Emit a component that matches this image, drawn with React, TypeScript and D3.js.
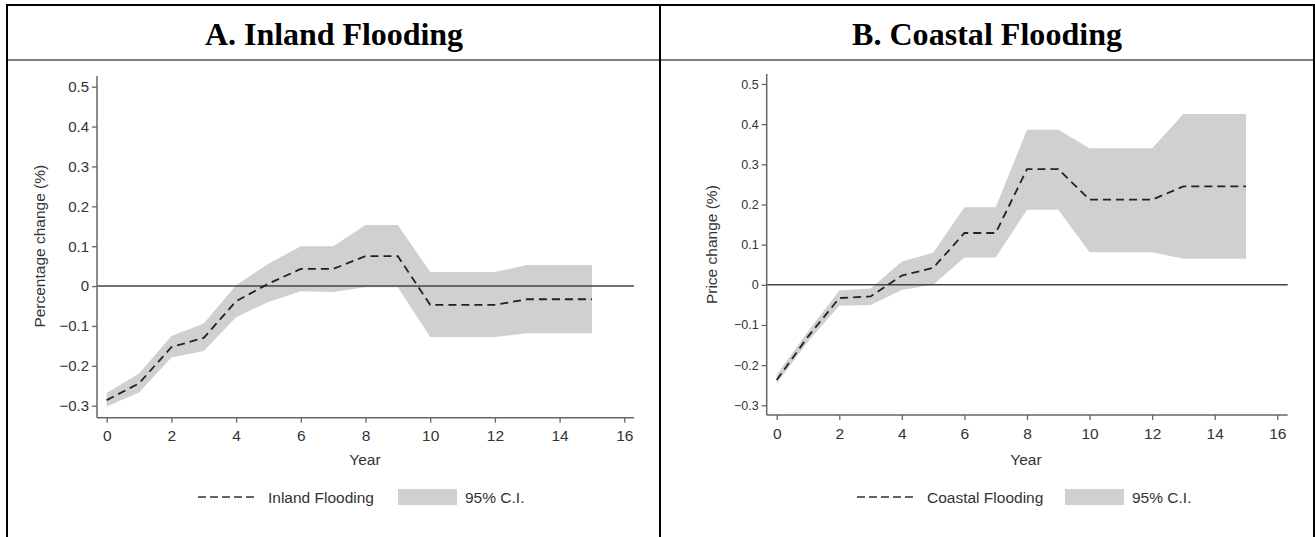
import React, { useRef, useEffect } from "react";
import * as d3 from "d3";

// years after the flood
const years = [0, 1, 2, 3, 4, 5, 6, 7, 8, 9, 10, 11, 12, 13, 14, 15];

// A. inland flooding, percentage change
const inlandEst = [-0.286, -0.244, -0.153, -0.13, -0.038, 0.006, 0.043, 0.043, 0.075, 0.075, -0.047, -0.047, -0.047, -0.033, -0.033, -0.033];
const inlandLo = [-0.302, -0.267, -0.179, -0.163, -0.078, -0.04, -0.013, -0.015, -0.003, -0.003, -0.128, -0.128, -0.128, -0.118, -0.118, -0.118];
const inlandHi = [-0.268, -0.219, -0.125, -0.094, 0.002, 0.056, 0.1, 0.1, 0.153, 0.153, 0.035, 0.035, 0.035, 0.053, 0.053, 0.053];

// B. coastal flooding, price change
const coastalEst = [-0.237, -0.129, -0.033, -0.029, 0.023, 0.042, 0.129, 0.129, 0.288, 0.288, 0.212, 0.212, 0.212, 0.245, 0.245, 0.245];
const coastalLo = [-0.246, -0.141, -0.052, -0.05, -0.013, 0.0, 0.068, 0.068, 0.187, 0.187, 0.081, 0.081, 0.081, 0.065, 0.065, 0.065];
const coastalHi = [-0.224, -0.116, -0.014, -0.009, 0.058, 0.08, 0.193, 0.193, 0.386, 0.386, 0.34, 0.34, 0.34, 0.425, 0.425, 0.425];

const xTicks = [0, 2, 4, 6, 8, 10, 12, 14, 16];
const yTicks = [-0.3, -0.2, -0.1, 0, 0.1, 0.2, 0.3, 0.4, 0.5];

const panels = [
	{
		title: "A. Inland Flooding", titleX: 334,
		yLabel: "Percentage change (%)", legend: "Inland Flooding",
		est: inlandEst, lo: inlandLo, hi: inlandHi,
		x0: 106.7, x16: 624.3, yBot: 405.7, yTop: 86.7,
		axisX: 97, axisY: 417.7, axisTop: 76, axisRight: 634,
		yFont: 15, xFont: 15.5, labelX: 40, yearX: 365,
		legX: 198, legBox: 398,
	},
	{
		title: "B. Coastal Flooding", titleX: 987,
		yLabel: "Price change (%)", legend: "Coastal Flooding",
		est: coastalEst, lo: coastalLo, hi: coastalHi,
		x0: 776.7, x16: 1277.3, yBot: 405.3, yTop: 84,
		axisX: 766.7, axisY: 415, axisTop: 74, axisRight: 1287.7,
		yFont: 12.5, xFont: 15.5, labelX: 712, yearX: 1026,
		legX: 857, legBox: 1065,
	},
];

const App = () => {
	const svgRef = useRef(null);

	useEffect(() => {
		const svg = d3.select(svgRef.current);
		svg.selectAll("*").remove();

		// table frame
		const frame = svg.append("g").attr("stroke", "#000").attr("fill", "none");
		frame.append("line").attr("x1", 6).attr("x2", 1315).attr("y1", 5).attr("y2", 5).attr("stroke-width", 2);
		frame.append("line").attr("x1", 6).attr("x2", 1315).attr("y1", 60).attr("y2", 60).attr("stroke-width", 1.2);
		[7, 660, 1314].forEach(x => {
			frame.append("line").attr("x1", x).attr("x2", x).attr("y1", 4).attr("y2", 537).attr("stroke-width", 2);
		});

		panels.forEach(p => {
			const g = svg.append("g");
			const x = d3.scaleLinear().domain([0, 16]).range([p.x0, p.x16]);
			const y = d3.scaleLinear().domain([-0.3, 0.5]).range([p.yBot, p.yTop]);

			g.append("text")
				.attr("x", p.titleX).attr("y", 45)
				.attr("text-anchor", "middle")
				.attr("font-family", "Liberation Serif, Times New Roman, serif")
				.attr("font-weight", "bold").attr("font-size", 32)
				.attr("textLength", p.title.length > 18 ? 270 : 258)
				.text(p.title);

			// confidence band
			const area = d3.area<number>()
				.x((_, i) => x(years[i]))
				.y0((_, i) => y(p.lo[i]))
				.y1(d => y(d));
			g.append("path").datum(p.hi).attr("d", area).attr("fill", "#d0d0d0");

			// zero line
			g.append("line")
				.attr("x1", p.axisX).attr("x2", p.axisRight)
				.attr("y1", y(0)).attr("y2", y(0))
				.attr("stroke", "#444").attr("stroke-width", 1.5);

			// estimate
			const line = d3.line<number>().x((_, i) => x(years[i])).y(d => y(d));
			g.append("path").datum(p.est).attr("d", line)
				.attr("fill", "none").attr("stroke", "#222")
				.attr("stroke-width", 1.8).attr("stroke-dasharray", "8,5");

			// axes
			const yAxis = d3.axisLeft(y).tickValues(yTicks).tickSize(5).tickSizeOuter(0)
				.tickFormat(d => (d === 0 ? "0" : d3.format(".1f")(d as number)));
			const ya = g.append("g").attr("transform", `translate(${p.axisX},0)`).call(yAxis);
			ya.select(".domain").remove();
			ya.selectAll("line").attr("stroke", "#666").attr("stroke-width", 1.3);
			ya.selectAll("text").attr("font-size", p.yFont).attr("fill", "#333")
				.attr("font-family", "Liberation Sans, Arial, sans-serif");

			const xAxis = d3.axisBottom(x).tickValues(xTicks).tickSize(5).tickSizeOuter(0);
			const xa = g.append("g").attr("transform", `translate(0,${p.axisY})`).call(xAxis);
			xa.select(".domain").remove();
			xa.selectAll("line").attr("stroke", "#666").attr("stroke-width", 1.3);
			xa.selectAll("text").attr("font-size", p.xFont).attr("fill", "#333")
				.attr("font-family", "Liberation Sans, Arial, sans-serif").attr("dy", "1.0em");

			g.append("line").attr("x1", p.axisX).attr("x2", p.axisX)
				.attr("y1", p.axisTop).attr("y2", p.axisY)
				.attr("stroke", "#666").attr("stroke-width", 1.5);
			g.append("line").attr("x1", p.axisX).attr("x2", p.axisRight)
				.attr("y1", p.axisY).attr("y2", p.axisY)
				.attr("stroke", "#666").attr("stroke-width", 1.5);

			const txt = (sel) => sel.attr("font-family", "Liberation Sans, Arial, sans-serif").attr("fill", "#333");

			g.append("text").call(txt)
				.attr("transform", `translate(${p.labelX},${y(0.1)}) rotate(-90)`)
				.attr("text-anchor", "middle").attr("dy", "0.35em")
				.attr("font-size", 15.5).text(p.yLabel);

			g.append("text").call(txt)
				.attr("x", p.yearX).attr("y", 465)
				.attr("text-anchor", "middle").attr("font-size", 15.5).text("Year");

			// legend
			g.append("line").attr("x1", p.legX).attr("x2", p.legX + 60)
				.attr("y1", 497).attr("y2", 497)
				.attr("stroke", "#333").attr("stroke-width", 1.5).attr("stroke-dasharray", "8,4");
			g.append("text").call(txt).attr("x", p.legX + 70).attr("y", 503)
				.attr("font-size", 15.5).text(p.legend);
			g.append("rect").attr("x", p.legBox).attr("y", 489).attr("width", 59).attr("height", 16)
				.attr("fill", "#d0d0d0");
			g.append("text").call(txt).attr("x", p.legBox + 67).attr("y", 503)
				.attr("font-size", 15.5).text("95% C.I.");
		});
	});

	return (
		<svg ref={svgRef} width={1315} height={537}
			style={{ position: "absolute", left: 0, top: 0, background: "#fff" }}>
		</svg>
	);
};

export default App;
